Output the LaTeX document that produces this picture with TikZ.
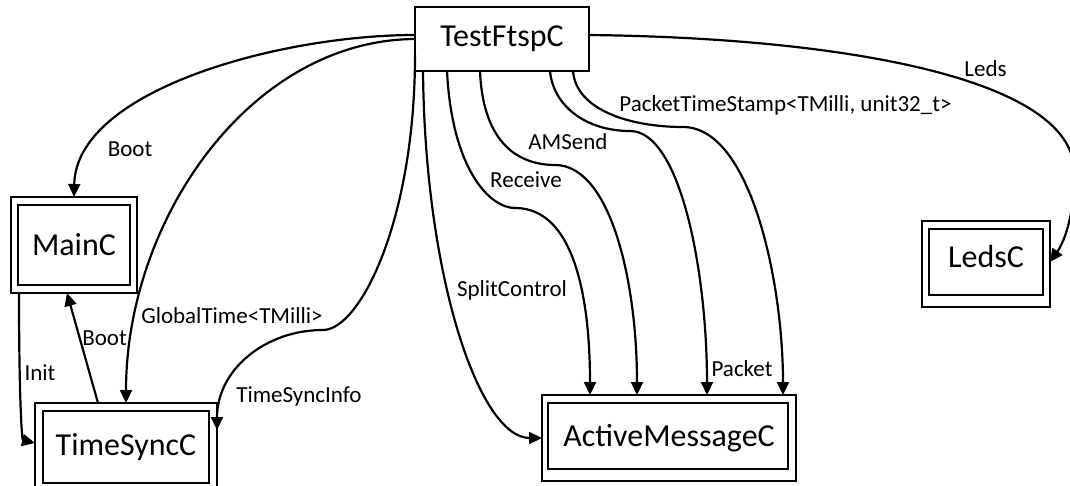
\documentclass[tikz,border=0pt]{standalone}
\usepackage{fontspec}
\setmainfont{Carlito}
\usetikzlibrary{arrows.meta}
\tikzset{
  boxline/.style={line width=1.5pt},
  comp/.style={draw, boxline, inner sep=0pt, outer sep=0pt, font=\fontsize{32}{38}\selectfont},
  wire/.style={line width=2.2pt, -{Triangle[length=13pt,width=12pt]}},
  lbl/.style={anchor=base, inner sep=0pt, font=\fontsize{23}{28}\selectfont},
}
\begin{document}
\begin{tikzpicture}[x=1pt,y=-1pt]
\useasboundingbox (0,0) rectangle (1070,486);
\fill[white] (0,0) rectangle (1070,486);
\clip (0,0) rectangle (1070,486);

% components
\node[comp, minimum width=174pt, minimum height=64pt] (test) at (502,39) {TestFtspC};
\node[comp, minimum width=126pt, minimum height=96pt] (main) at (74,245) {MainC};
\node[comp, minimum width=182pt, minimum height=88pt] (ts) at (126,447) {TimeSyncC};
\node[comp, minimum width=254pt, minimum height=86pt] (am) at (669,438) {ActiveMessageC};
\node[comp, minimum width=128pt, minimum height=86pt, text depth=16pt] (leds) at (986,264) {LedsC};

% inner frames of the configurations
\draw[boxline] ([shift={(7,8)}]main.north west) rectangle ([shift={(-7,-8)}]main.south east);
\draw[boxline] ([shift={(8,8)}]ts.north west) rectangle ([shift={(-8,-8)}]ts.south east);
\draw[boxline] ([shift={(6,8)}]am.north west) rectangle ([shift={(-8,-12)}]am.south east);
\draw[boxline] ([shift={(7,8)}]leds.north west) rectangle ([shift={(-7,-12)}]leds.south east);

% wiring
\draw[wire] ([shift={(0,28)}]test.north west) .. controls (280,35) and (76,90) .. (main.north);
\draw[wire] ([shift={(0,32)}]test.north west) .. controls (250,40) and (126,220) .. (ts.north);
\draw[wire] ([shift={(0,-16)}]test.south west) .. controls (415,220) and (360,330) .. (323,330)
  .. controls (265,330) and (217,370) .. ([shift={(0,27)}]ts.north east);
\draw[wire] ([shift={(8,0)}]test.south west) .. controls (425,280) and (480,438) .. (am.west);
\draw[wire] ([shift={(32,0)}]test.south west) .. controls (452,170) and (490,208) .. (515,208)
  .. controls (575,208) and (590,300) .. ([shift={(48,0)}]am.north west);
\draw[wire] ([shift={(65,0)}]test.south west) .. controls (483,145) and (520,165) .. (555,165)
  .. controls (610,165) and (637,280) .. ([shift={(95,0)}]am.north west);
\draw[wire] ([shift={(135,0)}]test.south west) .. controls (553,105) and (585,131) .. (630,131)
  .. controls (680,131) and (707,270) .. ([shift={(165,0)}]am.north west);
\draw[wire] ([shift={(158,0)}]test.south west) .. controls (576,110) and (630,127) .. (683,127)
  .. controls (750,127) and (783,280) .. ([shift={(241,0)}]am.north west);
\draw[wire] ([shift={(0,28)}]test.north east) .. controls (850,38) and (1072,80) .. (1074,170)
  .. controls (1075,220) and (1062,245) .. ([shift={(0,-2)}]leds.east);
\draw[wire] ([shift={(8,0)}]main.south west) .. controls (19,400) and (22,440) .. ([shift={(0,40)}]ts.north west);
\draw[wire] ([shift={(-28,0)}]ts.north) -- ([shift={(-7,0)}]main.south);

% interface labels
\node[lbl] (lboot) at (130,157) {Boot};
\node[lbl] (lglobal) at (232,323) {GlobalTime<TMilli>};
\node[lbl] (lsync) at (299,402) {TimeSyncInfo};
\node[lbl] (linit) at (40,380) {Init};
\node[lbl] (lboot2) at (104.5,345) {Boot};
\node[lbl] (lsplit) at (512,296.5) {SplitControl};
\node[lbl] (lrecv) at (526,188) {Receive};
\node[lbl] (lsend) at (568,150) {AMSend};
\node[lbl] (lstamp) at (785.5,111.5) {PacketTimeStamp<TMilli, unit32\_t>};
\node[lbl] (lleds) at (985.5,76.5) {Leds};
\node[lbl] (lpacket) at (742,376.5) {Packet};
\end{tikzpicture}
\end{document}
